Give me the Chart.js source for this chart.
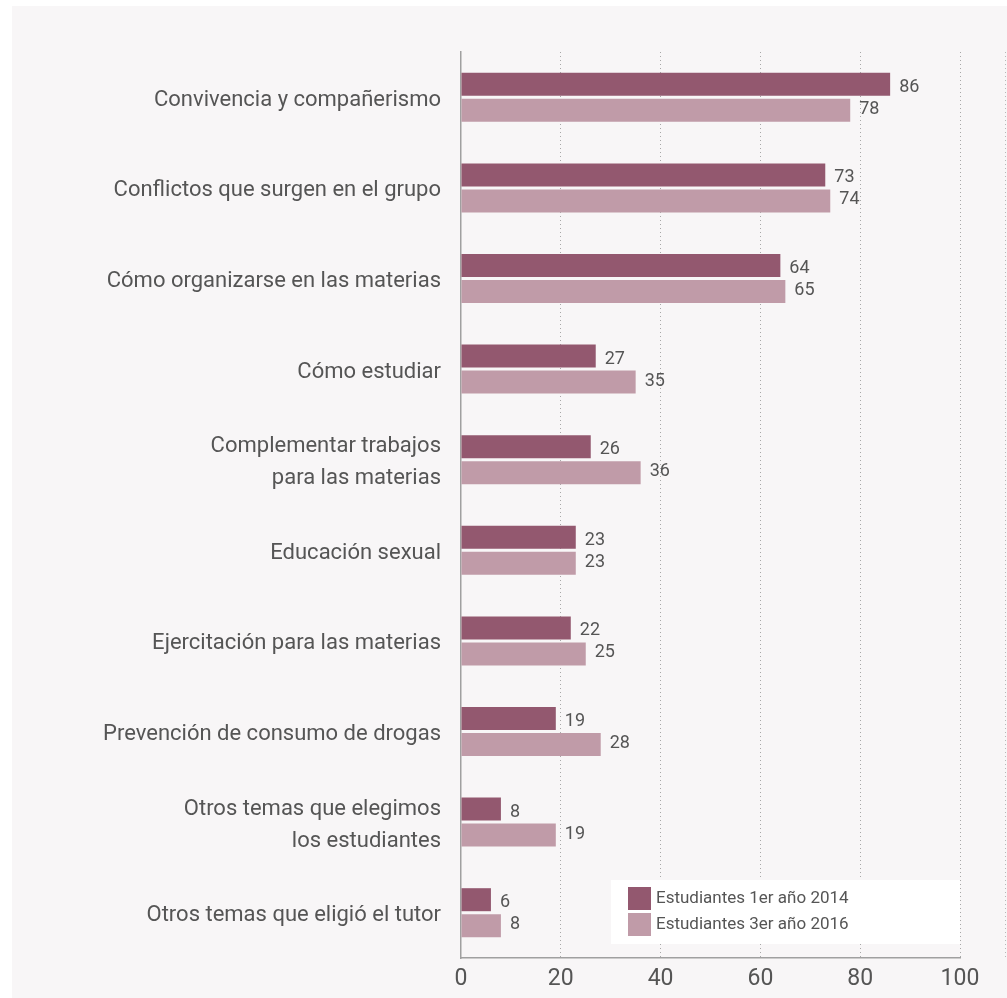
<!DOCTYPE html>
<html>
<head>
<meta charset="utf-8">
<script src="https://cdn.jsdelivr.net/npm/chart.js@4"></script>
<style>
html,body{margin:0;padding:0;background:#fff;}
#wrap{position:absolute;left:0;top:0;width:1007px;height:998px;}
</style>
</head>
<body>
<div id="wrap"><canvas id="c" width="1007" height="998"></canvas></div>
<script>
const categories = [
  "Convivencia y compañerismo",
  "Conflictos que surgen en el grupo",
  "Cómo organizarse en las materias",
  "Cómo estudiar",
  ["Complementar trabajos", "para las materias"],
  "Educación sexual",
  "Ejercitación para las materias",
  "Prevención de consumo de drogas",
  ["Otros temas que elegimos", "los estudiantes"],
  "Otros temas que eligió el tutor"
];
const series1Label = "Estudiantes 1er año 2014";
const series2Label = "Estudiantes 3er año 2016";
const series1 = [86, 73, 64, 27, 26, 23, 22, 19, 8, 6];
const series2 = [78, 74, 65, 35, 36, 23, 25, 28, 19, 8];
const xTicks = [0, 20, 40, 60, 80, 100];

const FONT = "'Roboto', 'Liberation Sans', sans-serif";
const TEXT = "#555555";
const C1 = "#93586f";
const C2 = "#c09ba8";

const bgPlugin = {
  id: 'bg',
  beforeDraw(chart) {
    const ctx = chart.ctx;
    ctx.save();
    ctx.fillStyle = "#ffffff";
    ctx.fillRect(0, 0, chart.width, chart.height);
    ctx.fillStyle = "#f8f6f7";
    ctx.fillRect(12, 6, chart.width - 12, chart.height - 6);
    ctx.restore();
  }
};

const labelPlugin = {
  id: 'vals',
  afterDatasetsDraw(chart) {
    const ctx = chart.ctx;
    ctx.save();
    ctx.font = "18px " + FONT;
    ctx.fillStyle = TEXT;
    ctx.textBaseline = "middle";
    ctx.textAlign = "left";
    chart.data.datasets.forEach((ds, i) => {
      const meta = chart.getDatasetMeta(i);
      meta.data.forEach((bar, j) => {
        ctx.fillText(String(ds.data[j]), bar.x + 9, bar.y + (i === 0 ? 3 : -1));
      });
    });
    ctx.restore();
  }
};

const legendPlugin = {
  id: 'boxLegend',
  afterDraw(chart) {
    const ctx = chart.ctx;
    const xs = chart.scales.x;
    ctx.save();
    ctx.strokeStyle = "#b8b8b8";
    ctx.lineWidth = 1;
    ctx.setLineDash([1, 3]);
    ctx.beginPath();
    ctx.moveTo(1005.5, chart.chartArea.top);
    ctx.lineTo(1005.5, chart.chartArea.bottom);
    ctx.stroke();
    ctx.setLineDash([]);
    const left = 611, top = 880, right = xs.right, bottom = 944;
    ctx.fillStyle = "#ffffff";
    ctx.fillRect(left, top, right - left, bottom - top);
    ctx.font = "17px " + FONT;
    ctx.textBaseline = "middle";
    ctx.textAlign = "left";
    chart.data.datasets.forEach((ds, i) => {
      const y = 887 + i * 26;
      ctx.fillStyle = ds.backgroundColor;
      ctx.fillRect(628, y, 23, 23);
      ctx.fillStyle = TEXT;
      ctx.fillText(ds.label, 656, y + 12);
    });
    ctx.restore();
  }
};

new Chart(document.getElementById('c'), {
  type: 'bar',
  data: {
    labels: categories,
    datasets: [
      { label: series1Label, data: series1, backgroundColor: C1, barPercentage: 0.885, categoryPercentage: 0.574 },
      { label: series2Label, data: series2, backgroundColor: C2, barPercentage: 0.885, categoryPercentage: 0.574 }
    ]
  },
  options: {
    indexAxis: 'y',
    responsive: false,
    animation: false,
    devicePixelRatio: 1,
    layout: { padding: { top: 52, right: 47, left: 0, bottom: 0 } },
    plugins: { legend: { display: false }, tooltip: { enabled: false } },
    scales: {
      x: {
        min: 0, max: 100,
        afterBuildTicks(scale) { scale.ticks = xTicks.map(v => ({ value: v })); },
        afterFit(scale) { scale.height = 40; },
        ticks: { color: TEXT, font: { family: FONT, size: 23 }, padding: 7, maxRotation: 0 },
        grid: {
          color: (c) => c.tick && c.tick.value === 0 ? 'rgba(0,0,0,0)' : '#a8a8a8',
          lineWidth: 1,
          drawTicks: false
        },
        border: { display: true, color: '#a0a0a0', width: 1.5, dash: [1, 3] }
      },
      y: {
        afterFit(scale) { scale.width = 461; },
        ticks: { color: TEXT, font: { family: FONT, size: 22, lineHeight: 1.45 }, padding: 20, labelOffset: 3 },
        grid: { display: false, drawTicks: false },
        border: { display: true, color: '#a0a0a0', width: 1.5 }
      }
    }
  },
  plugins: [bgPlugin, labelPlugin, legendPlugin]
});
</script>
</body>
</html>
